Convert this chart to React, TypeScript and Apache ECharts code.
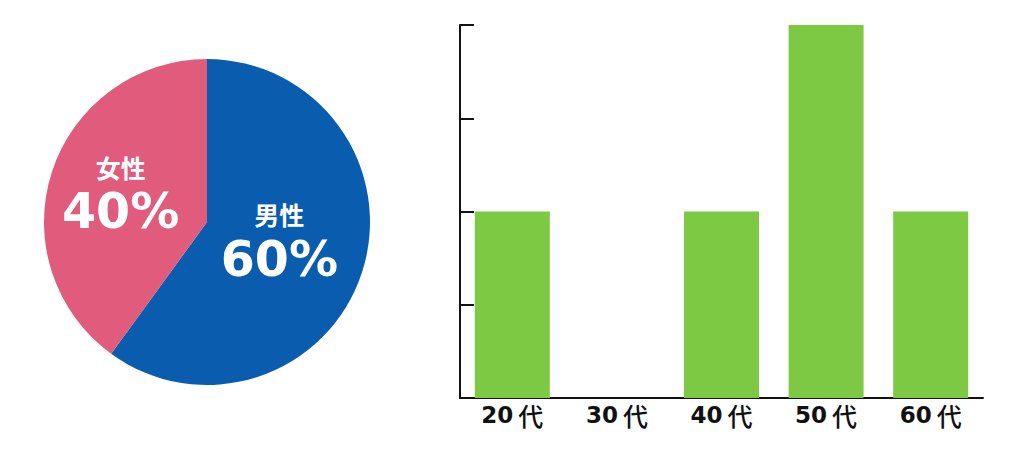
import React, { useEffect, useRef } from "react";
import * as echarts from "echarts";

const genderNames = ["男性", "女性"];
const genderValues = [60, 40];
const genderColors = ["#0A5DAE", "#E05B7C"];

const ageCategories = ["20代", "30代", "40代", "50代", "60代"];
const ageValues = [2, 0, 2, 4, 2];

const FONT = '"DejaVu Sans", "Noto Sans CJK JP", sans-serif';
const CJK = '"Noto Sans CJK JP", sans-serif';

export default function App() {
  const ref = useRef<HTMLDivElement>(null);
  useEffect(() => {
    document.body.style.margin = "0";
    const chart = echarts.init(ref.current!, null, { renderer: "svg" });
    chart.setOption({
      animation: false,
      backgroundColor: "#ffffff",
      grid: { left: 460, right: 41, top: 25, bottom: 52 },
      xAxis: {
        type: "category",
        data: ageCategories,
        axisLine: { lineStyle: { color: "#111", width: 2 } },
        axisTick: { show: false },
        axisLabel: {
          color: "#111",
          margin: 4,
          formatter: (v: string) => `{d|${v.slice(0, -1)}}{k|${v.slice(-1)}}`,
          rich: {
            d: { color: "#111", fontSize: 23, fontFamily: FONT, fontWeight: "bold" },
            k: { color: "#111", fontSize: 25, fontFamily: CJK, fontWeight: 500, padding: [0, 0, 0, 5] },
          },
        },
      },
      yAxis: {
        type: "value",
        min: 0,
        max: 4,
        interval: 1,
        axisLine: { show: true, lineStyle: { color: "#111", width: 2 } },
        axisTick: { show: true, inside: true, length: 14, lineStyle: { color: "#111", width: 2 } },
        axisLabel: { show: false },
        splitLine: { show: false },
      },
      series: [
        {
          type: "pie",
          center: [207, 222],
          radius: 163,
          startAngle: 90,
          clockwise: true,
          silent: true,
          label: {
            show: true,
            position: "inside",
            formatter: (p: any) => `{n|${p.name}}\n{v|${p.value}%}`,
            rich: {
              n: { color: "#fff", fontSize: 25, fontWeight: "bold", fontFamily: CJK, lineHeight: 38 },
              v: { color: "#fff", fontSize: 49, fontWeight: "bold", fontFamily: FONT, lineHeight: 52 },
            },
          },
          labelLayout: (p: any) => (p.dataIndex === 0 ? { dx: -8, dy: -8 } : { dx: -6, dy: -3 }),
          labelLine: { show: false },
          data: genderNames.map((n, i) => ({
            name: n,
            value: genderValues[i],
            itemStyle: { color: genderColors[i] },
          })),
        },
        {
          type: "bar",
          data: ageValues,
          barWidth: 75,
          itemStyle: { color: "#7DC943" },
        },
      ],
    });
    return () => chart.dispose();
  }, []);
  return <div ref={ref} style={{ width: 1024, height: 450 }} />;
}
